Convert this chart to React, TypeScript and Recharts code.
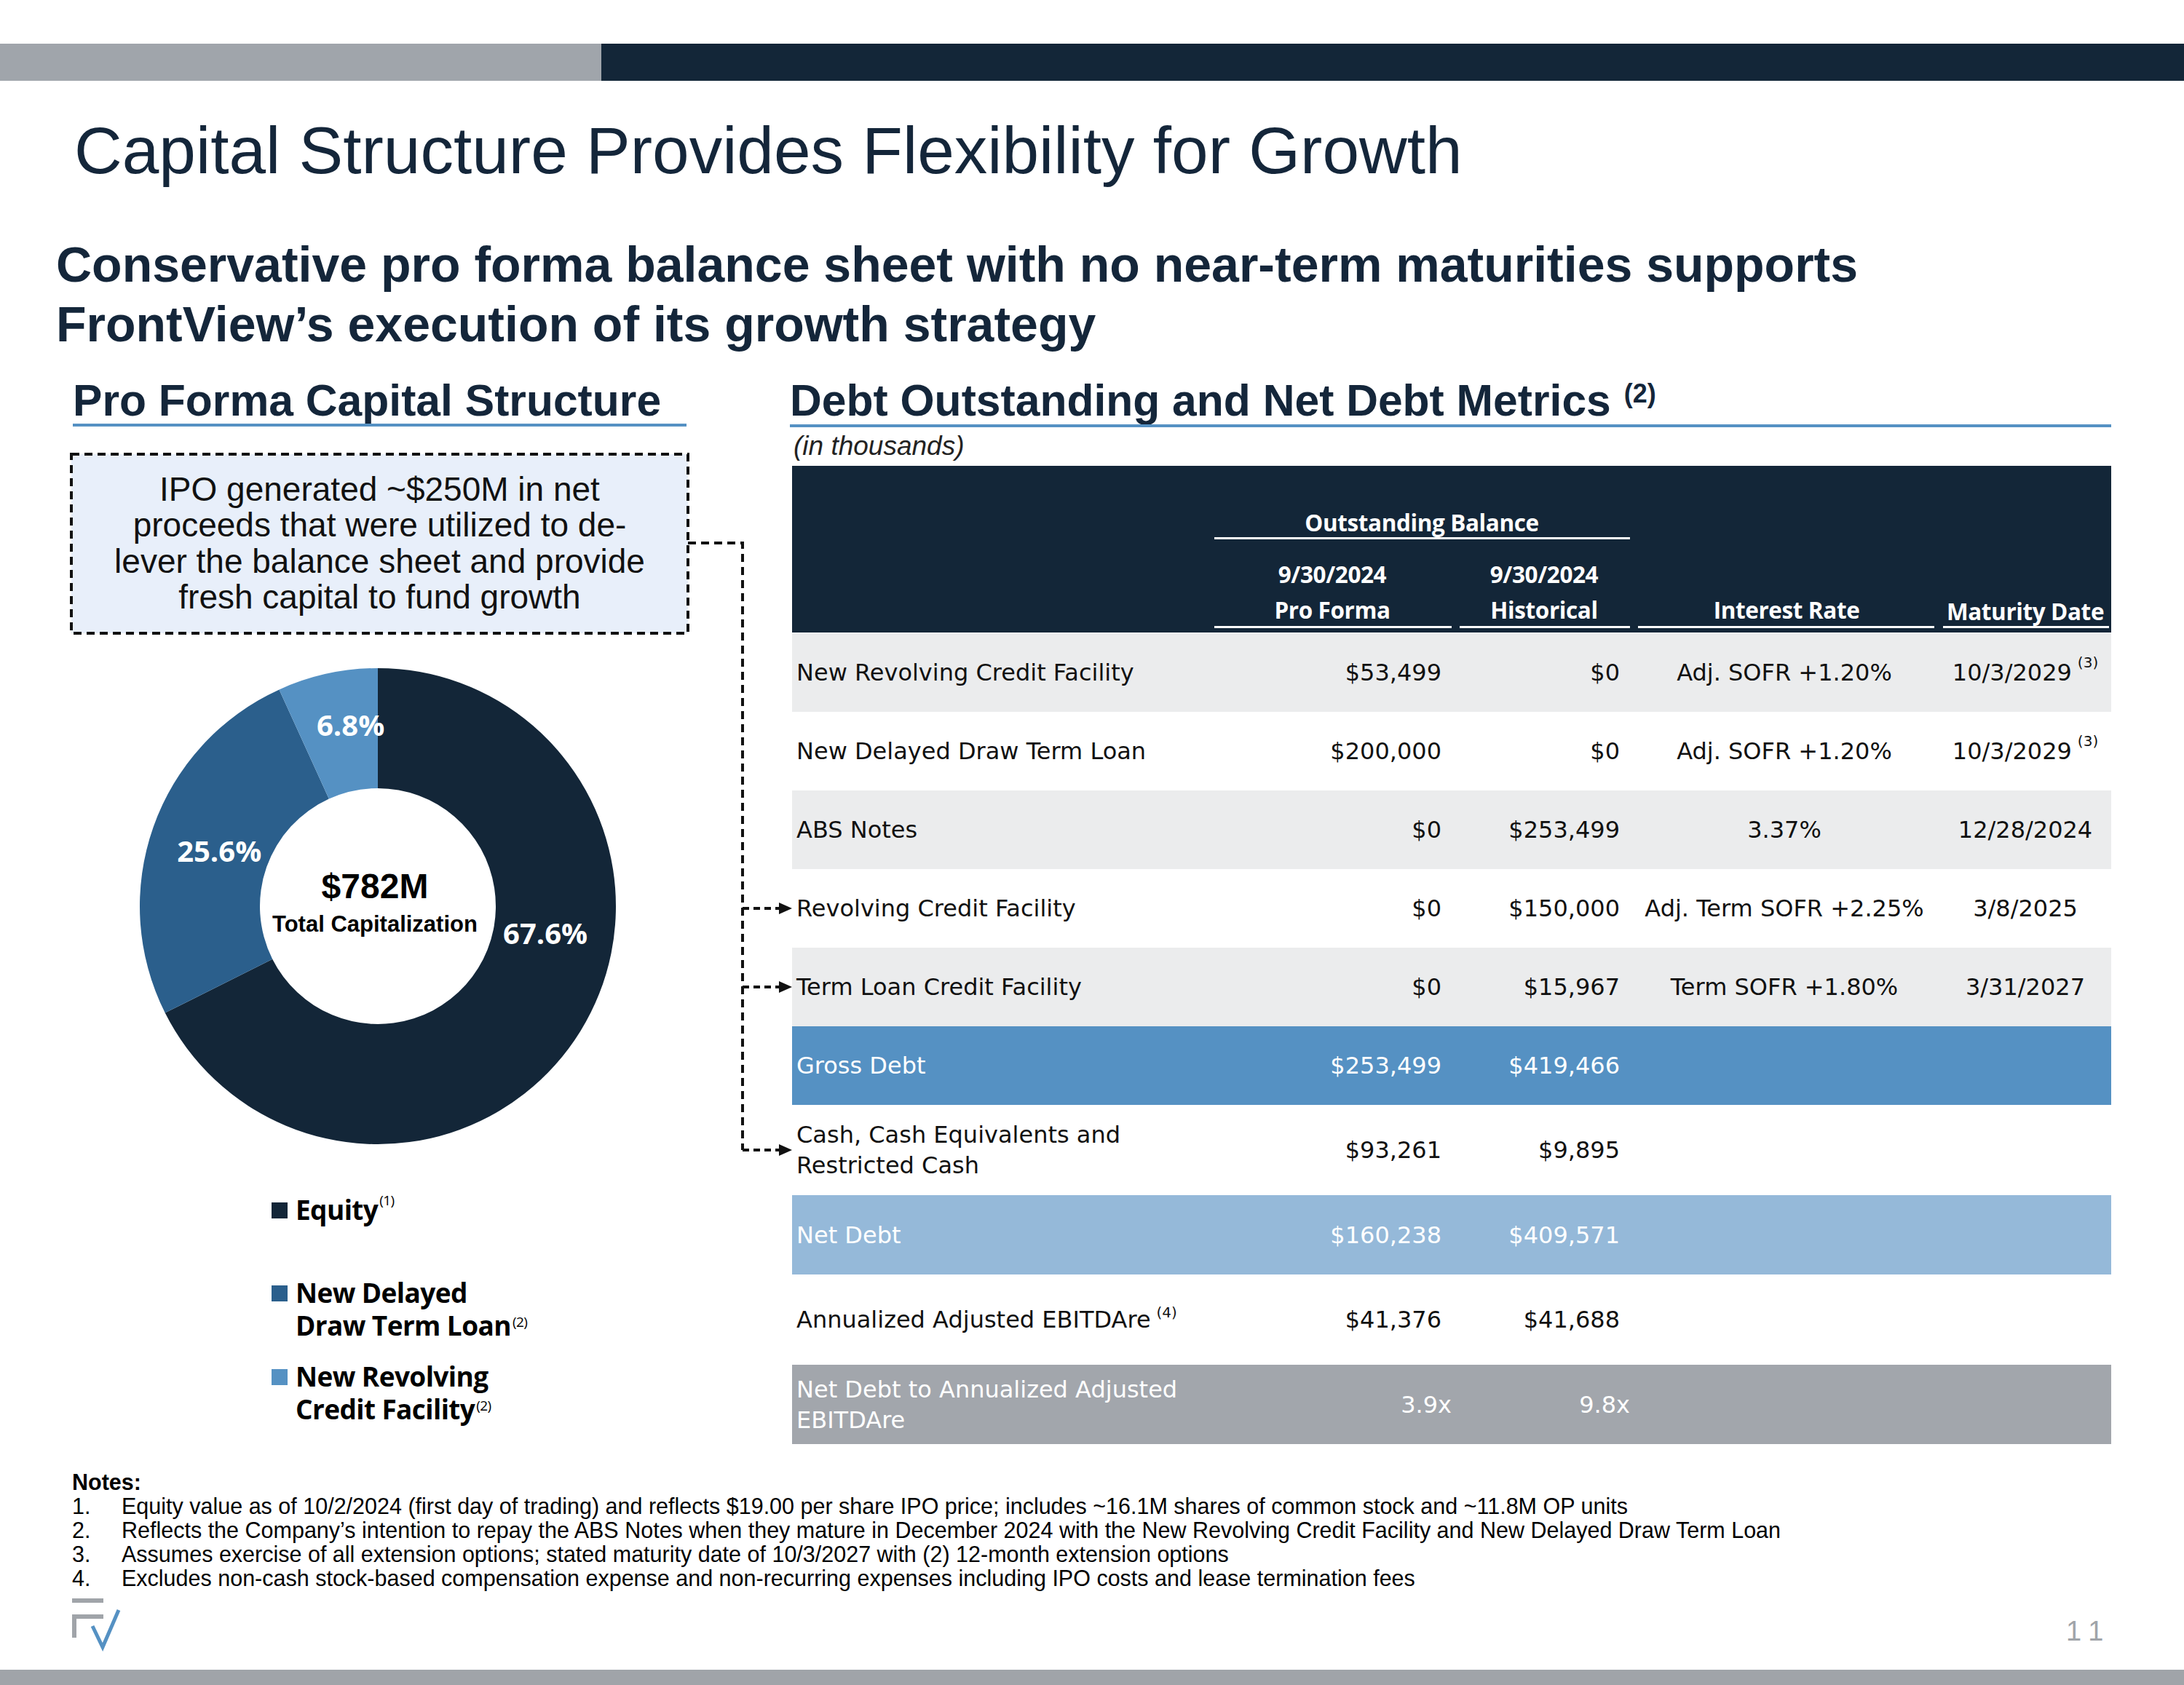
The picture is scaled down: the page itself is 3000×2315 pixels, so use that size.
import React from "react";
import { PieChart, Pie, Cell } from "recharts";

// pro forma capitalization (% of $782M)
const capNames = ["Equity", "New Delayed Draw Term Loan", "New Revolving Credit Facility"];
const capShares = [67.6, 25.6, 6.8];
const capColors = ["#132638", "#2b5f8c", "#5591c3"];
// label nudges so the % text sits where the slide puts it
const capLabelShift = [22.6, 0, -3.7];
const capLabelRadius = [233, 231, 252];

const legendLines = [["Equity"], ["New Delayed", "Draw Term Loan"], ["New Revolving", "Credit Facility"]];
const legendNotes = ["(1)", "(2)", "(2)"];

// debt table
const rowLabels = [
  ["New Revolving Credit Facility"],
  ["New Delayed Draw Term Loan"],
  ["ABS Notes"],
  ["Revolving Credit Facility"],
  ["Term Loan Credit Facility"],
  ["Gross Debt"],
  ["Cash, Cash Equivalents and", "Restricted Cash"],
  ["Net Debt"],
  ["Annualized Adjusted EBITDAre"],
  ["Net Debt to Annualized Adjusted", "EBITDAre"],
];
const labelNotes = ["", "", "", "", "", "", "", "", "(4)", ""];
const proForma = ["$53,499", "$200,000", "$0", "$0", "$0", "$253,499", "$93,261", "$160,238", "$41,376", "3.9x"];
const historical = ["$0", "$0", "$253,499", "$150,000", "$15,967", "$419,466", "$9,895", "$409,571", "$41,688", "9.8x"];
const interestRates = ["Adj. SOFR +1.20%", "Adj. SOFR +1.20%", "3.37%", "Adj. Term SOFR +2.25%", "Term SOFR +1.80%", "", "", "", "", ""];
const maturities = ["10/3/2029", "10/3/2029", "12/28/2024", "3/8/2025", "3/31/2027", "", "", "", "", ""];
const maturityNotes = ["(3)", "(3)", "", "", "", "", "", "", "", ""];
const rowKinds = ["shade", "plain", "shade", "plain", "shade", "gross", "plain", "net", "plain", "ratio"];
const rowHeights = [108, 108, 108, 108, 108, 108, 124, 109, 124, 109];
const arrowRows = [3, 4, 6];

const notes = [
  "Equity value as of 10/2/2024 (first day of trading) and reflects $19.00 per share IPO price; includes ~16.1M shares of common stock and ~11.8M OP units",
  "Reflects the Company\u2019s intention to repay the ABS Notes when they mature in December 2024 with the New Revolving Credit Facility and New Delayed Draw Term Loan",
  "Assumes exercise of all extension options; stated maturity date of 10/3/2027 with (2) 12-month extension options",
  "Excludes non-cash stock-based compensation expense and non-recurring expenses including IPO costs and lease termination fees",
];

const NAVY = "#14263a";
const ARIAL = '"Liberation Sans", Arial, sans-serif';
const SEGOE = '"Open Sans", "Noto Sans", sans-serif';
const TABLE = '"DejaVu Sans", Verdana, sans-serif';

const kindStyle: Record<string, { bg: string; color: string }> = {
  shade: { bg: "#ebeced", color: "#111" },
  plain: { bg: "#ffffff", color: "#111" },
  gross: { bg: "#5591c3", color: "#fff" },
  net: { bg: "#95b9d9", color: "#fff" },
  ratio: { bg: "#a2a6ac", color: "#fff" },
};

const capData = capNames.map((name, i) => ({ name, value: capShares[i] }));

const renderLabel = (p: any) => {
  const RAD = Math.PI / 180;
  const a = (p.midAngle + capLabelShift[p.index]) * RAD;
  const r = capLabelRadius[p.index];
  const x = p.cx + r * Math.cos(a);
  const y = p.cy - r * Math.sin(a);
  return (
    <text x={x} y={y} fill="#fff" textAnchor="middle" dominantBaseline="central"
      fontFamily={SEGOE} fontWeight={700} fontSize={40}>
      {capShares[p.index].toFixed(1)}%
    </text>
  );
};

const abs = (left: number, top: number, extra: React.CSSProperties = {}): React.CSSProperties => ({
  position: "absolute", left, top, ...extra,
});

// raised note marker that doesn't grow the line box
const Sup = ({ children, size, raise, gap = 2, weight = 400 }: any) => (
  <span style={{ position: "relative", top: -raise, fontSize: size, lineHeight: 0, fontWeight: weight, marginLeft: gap }}>
    {children}
  </span>
);

function DebtTable() {
  const tableLeft = 1088;
  const tableWidth = 1812;
  const headTop = 640;
  const headH = 229;
  const hText: React.CSSProperties = {
    fontFamily: SEGOE, fontWeight: 700, fontSize: 31.5, color: "#fff", letterSpacing: -0.4,
    lineHeight: "40px", textAlign: "center", whiteSpace: "nowrap",
  };
  const centered = (cx: number, cy: number, w: number, txt: string) => (
    <div style={{ ...abs(cx - w / 2, cy - 20), width: w, ...hText }}>{txt}</div>
  );
  const uline = (x1: number, x2: number, y: number) => (
    <div style={{ ...abs(x1, y - 1.5), width: x2 - x1, height: 3, background: "#fff" }} />
  );

  let y = headTop + headH + 1;
  const rows = rowLabels.map((lines, i) => {
    const h = rowHeights[i];
    const st = kindStyle[rowKinds[i]];
    const nudge = rowKinds[i] === "ratio" ? 14 : 0;
    const top = y;
    y += h;
    const cell: React.CSSProperties = {
      position: "absolute", top: 0, height: h, display: "flex", alignItems: "center",
      fontFamily: TABLE, fontSize: 32, color: st.color, whiteSpace: "nowrap",
    };
    return (
      <div key={i} style={{ ...abs(tableLeft, top), width: tableWidth, height: h, background: st.bg }}>
        <div style={{ ...cell, left: 6, lineHeight: "42px" }}>
          <div>
            {lines.map((l, k) => (
              <div key={k}>
                {l}
                {k === lines.length - 1 && labelNotes[i] ? (
                  <Sup size={20} raise={14} gap={8}>{labelNotes[i]}</Sup>
                ) : null}
              </div>
            ))}
          </div>
        </div>
        <div style={{ ...cell, left: 0, width: 1980 - tableLeft + nudge, justifyContent: "flex-end" }}>{proForma[i]}</div>
        <div style={{ ...cell, left: 0, width: 2225 - tableLeft + nudge, justifyContent: "flex-end" }}>{historical[i]}</div>
        <div style={{ ...cell, left: 2451 - tableLeft - 250, width: 500, justifyContent: "center" }}>{interestRates[i]}</div>
        <div style={{ ...cell, left: 2782 - tableLeft - 150, width: 300, justifyContent: "center" }}>
          {maturities[i]}
          {maturityNotes[i] ? <Sup size={20} raise={14} gap={8}>{maturityNotes[i]}</Sup> : null}
        </div>
      </div>
    );
  });

  return (
    <>
      <div style={{ ...abs(tableLeft, headTop), width: tableWidth, height: headH, background: "#132638" }} />
      {centered(1953, 718, 500, "Outstanding Balance")}
      {uline(1668, 2239, 739)}
      {centered(1830, 789, 300, "9/30/2024")}
      {centered(2121, 789, 300, "9/30/2024")}
      {centered(1830, 838, 300, "Pro Forma")}
      {centered(2121, 838, 300, "Historical")}
      {centered(2454, 838, 400, "Interest Rate")}
      {centered(2782, 840, 300, "Maturity Date")}
      {uline(1668, 1994, 861)}
      {uline(2005, 2239, 861)}
      {uline(2250, 2657, 861)}
      {uline(2669, 2897, 861)}
      {rows}
    </>
  );
}

function Connectors() {
  const mids: number[] = [];
  let y = 870;
  rowHeights.forEach((h) => { mids.push(y + h / 2); y += h; });
  const dash = "11 7";
  return (
    <svg width={3000} height={2315} style={abs(0, 0, { pointerEvents: "none" })}>
      <rect x={98} y={624} width={847} height={246} fill="#e8effa" stroke="#111" strokeWidth={4} strokeDasharray={dash} />
      <path d={`M945 746 H1020 V${mids[6]}`} fill="none" stroke="#111" strokeWidth={4} strokeDasharray={dash} />
      {arrowRows.map((r) => (
        <g key={r}>
          <line x1={1020} y1={mids[r]} x2={1072} y2={mids[r]} stroke="#111" strokeWidth={4} strokeDasharray="9 6" />
          <polygon points={`1088,${mids[r]} 1070,${mids[r] - 8} 1070,${mids[r] + 8}`} fill="#111" />
        </g>
      ))}
      {/* logo */}
      <rect x={99} y={2196} width={43} height={6} fill="#a0a4a9" />
      <path d="M102 2250 V2221 H142" fill="none" stroke="#a0a4a9" strokeWidth={6} />
      <path d="M127 2234 L141 2263 L163 2212" fill="none" stroke="#5591c3" strokeWidth={5} />
    </svg>
  );
}

export default function App() {
  return (
    <div style={{ position: "absolute", left: 0, top: 0, width: 3000, height: 2315, background: "#fff", overflow: "hidden", fontFamily: ARIAL }}>
      {/* top band */}
      <div style={{ ...abs(0, 60), width: 826, height: 51, background: "#a0a5ab" }} />
      <div style={{ ...abs(826, 60), width: 2174, height: 51, background: "#132638" }} />

      <div style={{ ...abs(102, 161), fontSize: 91, lineHeight: 1, color: NAVY, whiteSpace: "nowrap" }}>
        Capital Structure Provides Flexibility for Growth
      </div>
      <div style={{ ...abs(77, 322), fontSize: 68, lineHeight: "82px", fontWeight: 700, color: NAVY, whiteSpace: "nowrap" }}>
        Conservative pro forma balance sheet with no near-term maturities supports
        <br />
        FrontView’s execution of its growth strategy
      </div>

      <div style={{ ...abs(100, 520), fontSize: 60.6, lineHeight: 1, fontWeight: 700, color: NAVY, whiteSpace: "nowrap" }}>
        Pro Forma Capital Structure
      </div>
      <div style={{ ...abs(100, 582), width: 843, height: 4, background: "#5591c3" }} />
      <div style={{ ...abs(1085, 520), fontSize: 60.6, lineHeight: 1, fontWeight: 700, color: NAVY, whiteSpace: "nowrap" }}>
        Debt Outstanding and Net Debt Metrics<Sup size={36} raise={18} gap={18} weight={700}>(2)</Sup>
      </div>
      <div style={{ ...abs(1085, 583), width: 1815, height: 4, background: "#5591c3" }} />
      <div style={{ ...abs(1090, 594), fontSize: 37, lineHeight: "37px", fontStyle: "italic", color: "#222" }}>
        (in thousands)
      </div>

      <Connectors />

      <div style={{ ...abs(98, 648), width: 847, fontSize: 46, lineHeight: "49.3px", textAlign: "center", color: "#111" }}>
        IPO generated ~$250M in net
        <br />
        proceeds that were utilized to de-
        <br />
        lever the balance sheet and provide
        <br />
        fresh capital to fund growth
      </div>

      <div style={abs(519 - 360, 1245 - 360)}>
        <PieChart width={720} height={720} margin={{ top: 0, right: 0, bottom: 0, left: 0 }}>
          <Pie
            data={capData}
            dataKey="value"
            nameKey="name"
            cx={360}
            cy={360}
            innerRadius={162}
            outerRadius={327}
            startAngle={90}
            endAngle={-270}
            stroke="none"
            label={renderLabel}
            labelLine={false}
            isAnimationActive={false}
          >
            {capData.map((d, i) => (
              <Cell key={d.name} fill={capColors[i]} />
            ))}
          </Pie>
        </PieChart>
      </div>
      <div style={{ ...abs(315, 1194), width: 400, fontSize: 48, lineHeight: "48px", fontWeight: 700, textAlign: "center", color: "#000" }}>
        $782M
      </div>
      <div style={{ ...abs(315, 1254), width: 400, fontSize: 31, lineHeight: "31px", fontWeight: 700, textAlign: "center", color: "#000" }}>
        Total Capitalization
      </div>

      {/* legend */}
      {legendLines.map((lines, i) => {
        const firstCenter = [1663, 1777, 1892][i];
        return (
          <div key={i}>
            <div style={{ ...abs(373, firstCenter - 11), width: 22, height: 22, background: capColors[i] }} />
            <div style={{ ...abs(406, firstCenter - 23.6), fontFamily: SEGOE, fontWeight: 700, fontSize: 37, lineHeight: "45px", letterSpacing: -0.6, color: "#000", whiteSpace: "nowrap" }}>
              {lines.map((l, k) => (
                <div key={k}>
                  {l}
                  {k === lines.length - 1 ? (
                    <Sup size={19} raise={i === 0 ? 20 : 12} gap={2}>{legendNotes[i]}</Sup>
                  ) : null}
                </div>
              ))}
            </div>
          </div>
        );
      })}

      <DebtTable />

      {/* notes */}
      <div style={{ ...abs(99, 2020), fontSize: 30.5, lineHeight: "33px", color: "#000", whiteSpace: "nowrap" }}>
        <div style={{ fontWeight: 700 }}>Notes:</div>
        {notes.map((n, i) => (
          <div key={i} style={{ position: "relative" }}>
            <span>{i + 1}.</span>
            <span style={{ position: "absolute", left: 68 }}>{n}</span>
          </div>
        ))}
      </div>

      <div style={{ ...abs(2838, 2222), fontSize: 38, lineHeight: "38px", color: "#a0a4a9", letterSpacing: 12 }}>11</div>
      <div style={{ ...abs(0, 2294), width: 3000, height: 21, background: "#a0a4a9" }} />
    </div>
  );
}
